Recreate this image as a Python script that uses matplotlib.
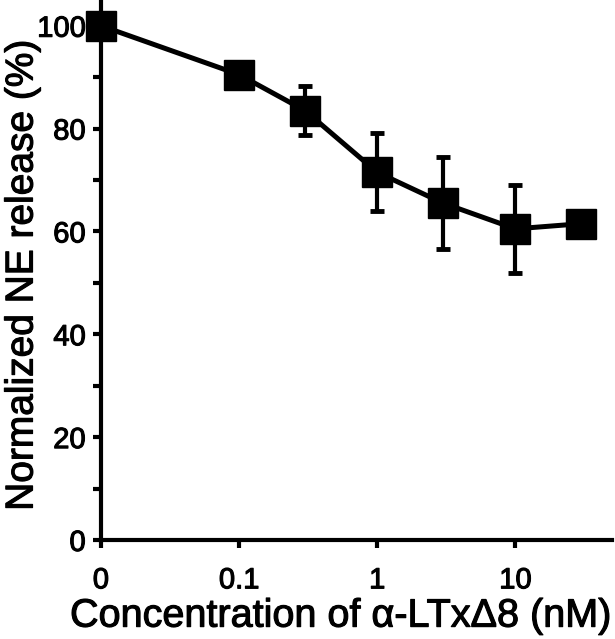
import numpy as np
import matplotlib
matplotlib.use("Agg")
import matplotlib.pyplot as plt
import matplotlib.patheffects as pe
from matplotlib.ticker import FixedLocator, NullLocator

plt.rcParams['font.family'] = ['Liberation Sans', 'DejaVu Sans']

# Data
concentration = [0, 0.1, 0.3, 1, 3, 10, 30]          # nM
release = [100, 90.5, 83.5, 71.5, 65.5, 60.5, 61.5]  # %
release_err = [1.0, 2.0, 4.8, 7.6, 9.0, 8.5, 1.0]
x_tick_values = [0, 0.1, 1, 10]
x_tick_labels = ["0", "0.1", "1", "10"]
y_ticks = [0, 20, 40, 60, 80, 100]
y_minor = [10, 30, 50, 70, 90]

ZERO_POS = 0.01  # where "0" is drawn on the log axis

def to_axis(v):
    return [ZERO_POS if c == 0 else c for c in v]

fig = plt.figure(figsize=(6.15, 6.39), dpi=100)
ax = fig.add_axes([0.164, 0.155, 0.831, 0.845])

ax.errorbar(to_axis(concentration), release, yerr=release_err,
            color='black', lw=3.6, marker='s', markersize=22,
            elinewidth=3, capsize=5, capthick=3.5, clip_on=False, zorder=3)

ax.set_xscale('log')
ax.set_xlim(ZERO_POS, 50)
ax.set_ylim(0, 105)

ax.xaxis.set_major_locator(FixedLocator(to_axis(x_tick_values)))
ax.set_xticklabels(x_tick_labels)
ax.xaxis.set_minor_locator(NullLocator())
ax.yaxis.set_major_locator(FixedLocator(y_ticks))
ax.yaxis.set_minor_locator(FixedLocator(y_minor))

for s in ['top', 'right']:
    ax.spines[s].set_visible(False)
for s in ['left', 'bottom']:
    ax.spines[s].set_linewidth(3)

ax.tick_params(which='both', direction='out', width=3, length=6,
               labelsize=21)
ax.tick_params(axis='x', pad=13)
ax.tick_params(axis='y', pad=5)

xl = ax.set_xlabel("Concentration of α-LTxΔ8 (nM)", fontsize=28.5)
yl = ax.set_ylabel("Normalized NE release (%)", fontsize=28)
ax.xaxis.set_label_coords(0.47, -0.105)
ax.yaxis.set_label_coords(-0.118, 0.49)

stroke = [pe.withStroke(linewidth=0.8, foreground='black')]
for t in ax.get_xticklabels() + ax.get_yticklabels() + [xl, yl]:
    t.set_path_effects(stroke)

fig.savefig("out.png", dpi=100)
